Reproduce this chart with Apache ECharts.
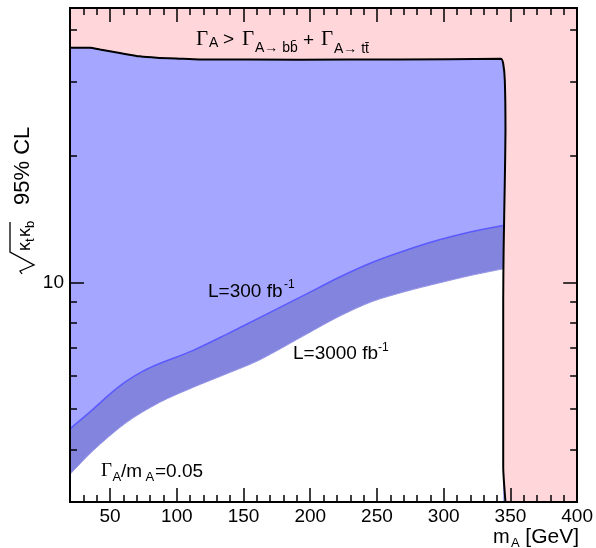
<!DOCTYPE html>
<html>
<head>
<meta charset="utf-8">
<script src="https://cdn.jsdelivr.net/npm/echarts@6/dist/echarts.min.js"></script>
<style>
html, body { margin: 0; padding: 0; background: #fff; }
#mainView { width: 596px; height: 548px; }
</style>
</head>
<body>
<div id="mainView"></div>
<script>
// tick positions
var xMajorTicks = [50, 100, 150, 200, 250, 300, 350, 400];
var yMajorTicks = [10];
var yMinorTicks = [4, 5, 6, 7, 8, 9, 20, 30, 40];

// edge of the Gamma_A > Gamma(A->bb) + Gamma(A->tt) region
var widthEdgeX = [20, 35, 42.4, 57.3, 72.2, 84.9, 102, 117, 192, 266, 342.8, 344.6, 345.8, 346.3, 345.8, 344.9, 344.6, 344.6, 346.3];
var widthEdgeY = [36.2, 36.2, 35.84, 35.16, 34.52, 34.25, 34.08, 33.95, 33.9, 33.93, 34.06, 33.14, 30.24, 22.99, 17.48, 11.91, 9.05, 3.64, 3.0];

// L = 300 fb-1 limit
var lumi300X = [20, 37.4, 49.8, 62.3, 74.7, 87.2, 112, 136.9, 161.8, 196.6, 221.4, 246.3, 271.2, 296.1, 319.9, 344.6];
var lumi300Y = [4.48, 4.99, 5.42, 5.82, 6.15, 6.41, 6.88, 7.51, 8.23, 9.36, 10.27, 11.15, 11.91, 12.61, 13.18, 13.66];

// L = 3000 fb-1 limit
var lumi3000X = [20, 37.4, 62.3, 87.2, 112, 136.9, 161.8, 196.6, 221.4, 246.3, 271.2, 296.1, 319.9, 344.6];
var lumi3000Y = [3.49, 3.98, 4.64, 5.18, 5.62, 6.05, 6.53, 7.51, 8.29, 9.00, 9.51, 9.96, 10.38, 10.77];

var SANS = 'Liberation Sans';
var SERIF = 'Liberation Serif';

function zip(xs, ys) {
    return xs.map(function (x, i) { return [x, ys[i]]; });
}

function xAx(pos, major, labels) {
    return {
        type: 'value', min: 20, max: 400, interval: 10, position: pos,
        axisLine: { show: true, onZero: false, lineStyle: { color: '#000', width: 2 } },
        axisTick: major
            ? { show: true, inside: true, length: 14, customValues: xMajorTicks, lineStyle: { color: '#000', width: 1.5 } }
            : { show: true, inside: true, length: 7, lineStyle: { color: '#000', width: 1.5 } },
        axisLabel: labels
            ? { show: true, customValues: xMajorTicks, color: '#000', fontSize: 19, fontFamily: SANS, margin: 5 }
            : { show: false },
        splitLine: { show: false },
        z: 10
    };
}

function yAx(pos, major, labels) {
    return {
        type: 'log', logBase: 10, min: 3, max: 45, position: pos,
        axisLine: { show: true, onZero: false, lineStyle: { color: '#000', width: 2 } },
        axisTick: { show: true, inside: true, length: major ? 14 : 7,
            customValues: major ? yMajorTicks : yMinorTicks,
            lineStyle: { color: '#000', width: 1.5 } },
        axisLabel: labels
            ? { show: true, customValues: yMajorTicks, color: '#000', fontSize: 19, fontFamily: SANS, margin: 6 }
            : { show: false },
        splitLine: { show: false },
        z: 10
    };
}

// text placed by its baseline
function txt(x, base, str, size, font, align) {
    return {
        type: 'text', x: x, y: base - 0.35 * size, z: 100,
        style: { text: str, fontSize: size, fontFamily: font || SANS, fill: '#000',
            align: align || 'left', verticalAlign: 'middle' }
    };
}

function area(data, fill, lineColor, lineWidth, smooth) {
    return {
        type: 'line', data: data, symbol: 'none', silent: true, smooth: smooth || false,
        xAxisIndex: 0, yAxisIndex: 0,
        lineStyle: { color: lineColor || fill, width: lineWidth || 0 },
        areaStyle: { color: fill, opacity: 1, origin: 'start' }
    };
}

var chart = echarts.init(document.getElementById('mainView'));
chart.setOption({
    animation: false,
    grid: { left: 70, right: 17, top: 8, bottom: 46 },
    xAxis: [xAx('bottom', false, false), xAx('bottom', true, true), xAx('top', false, false), xAx('top', true, false)],
    yAxis: [yAx('left', false, false), yAx('left', true, true), yAx('right', false, false), yAx('right', true, false)],
    series: [
        area([[20, 45], [400, 45]], '#ffd6d9'),
        area(zip(widthEdgeX, widthEdgeY), '#a5a6ff'),
        area(zip(lumi300X, lumi300Y), '#8384dd', '#5a5aff', 1.5, 0.3),
        area(zip(lumi3000X, lumi3000Y), '#ffffff', '#9494e6', 1, 0.3),
        {
            type: 'line', data: zip(widthEdgeX, widthEdgeY), symbol: 'none', silent: true,
            smooth: 0.2, xAxisIndex: 0, yAxisIndex: 0,
            lineStyle: { color: '#000', width: 2 }
        }
    ],
    graphic: [
        // width condition
        txt(196, 47, 'Γ', 21, SERIF),
        txt(209, 48.5, 'A', 14),
        txt(223, 46, '>', 19),
        txt(242, 47, 'Γ', 21, SERIF),
        txt(255, 53.5, 'A→ bb̄', 14),
        txt(303, 47, '+', 19),
        txt(321, 47, 'Γ', 21, SERIF),
        txt(334, 54.5, 'A→ tt̄', 14),
        // luminosity labels
        txt(208, 298.3, 'L=300 fb', 19),
        txt(284, 288.5, '-1', 12),
        txt(293, 360, 'L=3000 fb', 19),
        txt(378, 351.5, '-1', 12),
        // ratio label
        txt(101, 478, 'Γ', 19, SERIF),
        txt(112.5, 482, 'A', 13),
        txt(121, 478, '/m', 19),
        txt(145.5, 482, 'A', 13),
        txt(155, 478, '=0.05', 19),
        // x axis title
        txt(493, 544.5, 'm', 20),
        txt(511, 548, 'A', 13),
        txt(579, 544.5, '[GeV]', 21, SANS, 'right'),
        // y axis title, rotated
        {
            type: 'group', x: 31, y: 274, rotation: Math.PI / 2, z: 100,
            children: [
                {
                    type: 'polyline', z: 100,
                    shape: { points: [[0, -9], [3, -11], [9, 3], [22, -21], [52, -21]] },
                    style: { stroke: '#000', lineWidth: 1.3, fill: null }
                },
                txt(23, 0, 'κ', 18),
                txt(32, 4, 't', 13),
                txt(37, 0, 'κ', 18),
                txt(46, 4, 'b', 13),
                txt(69, 0, '95% CL', 22)
            ]
        }
    ]
});
</script>
</body>
</html>
